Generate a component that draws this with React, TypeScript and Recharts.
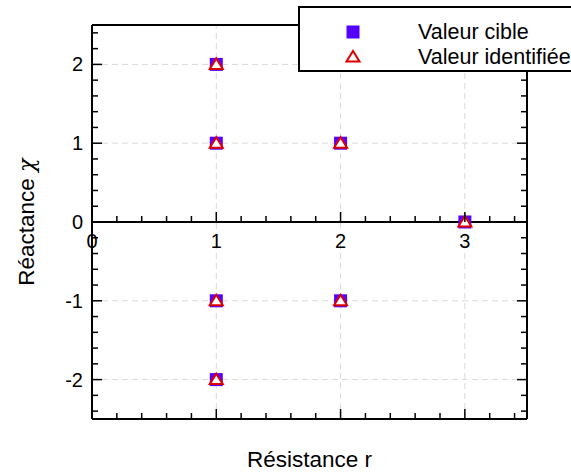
import React from "react";
import {
    Legend,
    ReferenceDot,
    ReferenceLine,
    Scatter,
    ScatterChart,
    XAxis,
    YAxis,
} from "recharts";

const targetR = [1, 1, 2, 3, 1, 2, 1];
const targetChi = [2, 1, 1, 0, -1, -1, -2];
const identR = [1, 1, 2, 3, 1, 2, 1];
const identChi = [2, 1, 1, 0, -1, -1, -2];

const xTicks = [0, 0.2, 0.4, 0.6, 0.8, 1, 1.2, 1.4, 1.6, 1.8, 2, 2.2, 2.4, 2.6, 2.8, 3, 3.2, 3.4];
const yTicks = [
    -2.4, -2.2, -2, -1.8, -1.6, -1.4, -1.2, -1, -0.8, -0.6, -0.4, -0.2, 0,
    0.2, 0.4, 0.6, 0.8, 1, 1.2, 1.4, 1.6, 1.8, 2, 2.2, 2.4,
];
const xLabels = [0, 1, 2, 3];
const xGrid = [1, 2, 3];
const yGrid = [-2, -1, 1, 2];

const targetData = targetR.map((r, i) => ({ r, chi: targetChi[i] }));
const identData = identR.map((r, i) => ({ r, chi: identChi[i] }));

const FONT = '"Liberation Sans", Arial, Helvetica, sans-serif';
const SQUARE_COLOR = "#5500ff";
const TRIANGLE_COLOR = "#dd0000";
const MAJOR = 10;
const MINOR = 6;

const isMajor = (v: number) => Math.abs(v - Math.round(v)) < 1e-6;

// tick marks point inward on every side of the frame
const BottomTick = ({ x, y, payload }: any) => {
    const len = isMajor(payload.value) ? MAJOR : MINOR;
    return <line x1={x} x2={x} y1={y} y2={y - len} stroke="#000" strokeWidth={1.5} />;
};

const TopTick = ({ x, y, payload }: any) => {
    const len = isMajor(payload.value) ? MAJOR : MINOR;
    return <line x1={x} x2={x} y1={y} y2={y + len} stroke="#000" strokeWidth={1.5} />;
};

const LeftTick = ({ x, y, payload }: any) => {
    const major = isMajor(payload.value);
    const len = major ? MAJOR : MINOR;
    return (
        <g>
            <line x1={x} x2={x + len} y1={y} y2={y} stroke="#000" strokeWidth={1.5} />
            {major && (
                <text x={x - 9} y={y + 7} textAnchor="end" fontSize={20} fontFamily={FONT} fill="#000">
                    {Math.round(payload.value)}
                </text>
            )}
        </g>
    );
};

const RightTick = ({ x, y, payload }: any) => {
    const len = isMajor(payload.value) ? MAJOR : MINOR;
    return <line x1={x} x2={x - len} y1={y} y2={y} stroke="#000" strokeWidth={1.5} />;
};

const ZeroTick = (value: number) => (props: any) => {
    const { cx, cy } = props;
    const major = isMajor(value);
    const len = major ? MAJOR : MINOR;
    return (
        <g>
            {value !== 0 && (
                <line x1={cx} x2={cx} y1={cy} y2={cy - len} stroke="#000" strokeWidth={1.5} />
            )}
            {major && xLabels.includes(value) && (
                <text x={cx} y={cy + 26} textAnchor="middle" fontSize={20} fontFamily={FONT} fill="#000">
                    {value}
                </text>
            )}
        </g>
    );
};

const SquareShape = ({ cx, cy }: any) => (
    <rect x={cx - 6.5} y={cy - 6.5} width={13} height={13} fill={SQUARE_COLOR} />
);

const TriangleShape = ({ cx, cy }: any) => (
    <polygon
        points={`${cx},${cy - 6} ${cx - 6.5},${cy + 4.5} ${cx + 6.5},${cy + 4.5}`}
        fill="#fff"
        stroke={TRIANGLE_COLOR}
        strokeWidth={2}
    />
);

const renderLegend = ({ payload }: any) => (
    <svg width={300} height={66} style={{ display: "block" }}>
        <rect x={1} y={1} width={320} height={64} fill="#fff" stroke="#000" strokeWidth={2} />
        {(payload ?? []).map((entry: any, i: number) => {
            const cy = 26 + i * 25;
            return (
                <g key={entry.value}>
                    {entry.type === "square" ? (
                        <rect x={48.5} y={cy - 6.5} width={13} height={13} fill={SQUARE_COLOR} />
                    ) : (
                        <polygon
                            points={`55,${cy - 6} 48.5,${cy + 4.5} 61.5,${cy + 4.5}`}
                            fill="#fff"
                            stroke={TRIANGLE_COLOR}
                            strokeWidth={2}
                        />
                    )}
                    <text x={120} y={cy + 7} fontSize={21.5} fontFamily={FONT} fill="#000">
                        {entry.value}
                    </text>
                </g>
            );
        })}
    </svg>
);

export default function App() {
    return (
        <div
            style={{
                position: "absolute",
                left: 0,
                top: 0,
                width: 571,
                height: 472,
                overflow: "hidden",
                background: "#fff",
                fontFamily: FONT,
            }}
        >
            <ScatterChart width={571} height={472} margin={{ top: 24, right: 43, bottom: 52, left: 91 }}>
                <XAxis
                    type="number"
                    dataKey="r"
                    domain={[0, 3.5]}
                    ticks={xTicks}
                    interval={0}
                    height={1}
                    tickSize={0}
                    tickMargin={0}
                    tickLine={false}
                    tick={BottomTick}
                    axisLine={{ stroke: "#000", strokeWidth: 2 }}
                    allowDataOverflow
                    label={(props: any) => {
                        const vb = props.viewBox;
                        return (
                            <text x={vb.x + vb.width / 2} y={467} textAnchor="middle" fontSize={22.5} fontFamily={FONT} fill="#000">
                                Résistance r
                            </text>
                        );
                    }}
                />
                <XAxis
                    xAxisId="top"
                    orientation="top"
                    type="number"
                    domain={[0, 3.5]}
                    ticks={xTicks}
                    interval={0}
                    height={1}
                    tickSize={0}
                    tickMargin={0}
                    tickLine={false}
                    tick={TopTick}
                    axisLine={{ stroke: "#000", strokeWidth: 2 }}
                    allowDataOverflow
                />
                <YAxis
                    type="number"
                    dataKey="chi"
                    domain={[-2.5, 2.5]}
                    ticks={yTicks}
                    interval={0}
                    width={1}
                    tickSize={0}
                    tickMargin={0}
                    tickLine={false}
                    tick={LeftTick}
                    axisLine={{ stroke: "#000", strokeWidth: 2 }}
                    allowDataOverflow
                    label={(props: any) => {
                        const vb = props.viewBox;
                        const cy = vb.y + vb.height / 2;
                        return (
                            <text
                                x={34}
                                y={cy}
                                transform={`rotate(-90, 34, ${cy})`}
                                textAnchor="middle"
                                fontSize={22.5}
                                fontFamily={FONT}
                                fill="#000"
                            >
                                Réactance <tspan fontFamily='"DejaVu Serif", serif' fontStyle="italic">χ</tspan>
                            </text>
                        );
                    }}
                />
                <YAxis
                    yAxisId="right"
                    orientation="right"
                    type="number"
                    domain={[-2.5, 2.5]}
                    ticks={yTicks}
                    interval={0}
                    width={1}
                    tickSize={0}
                    tickMargin={0}
                    tickLine={false}
                    tick={RightTick}
                    axisLine={{ stroke: "#000", strokeWidth: 2 }}
                    allowDataOverflow
                />
                {xGrid.map((v) => (
                    <ReferenceLine key={`gx${v}`} x={v} stroke="#d9d9d9" strokeDasharray="6 4" />
                ))}
                {yGrid.map((v) => (
                    <ReferenceLine key={`gy${v}`} y={v} stroke="#d9d9d9" strokeDasharray="6 4" />
                ))}
                <Scatter
                    name="Valeur cible"
                    data={targetData}
                    fill={SQUARE_COLOR}
                    legendType="square"
                    shape={SquareShape}
                    isAnimationActive={false}
                />
                <Scatter
                    name="Valeur identifiée"
                    data={identData}
                    fill={TRIANGLE_COLOR}
                    legendType="triangle"
                    shape={TriangleShape}
                    isAnimationActive={false}
                />
                <ReferenceLine y={0} stroke="#000" strokeWidth={2} />
                {xTicks.map((v) => (
                    <ReferenceDot key={`zt${v}`} x={v} y={0} r={0} shape={ZeroTick(v)} />
                ))}
                <Legend
                    layout="horizontal"
                    verticalAlign="middle"
                    align="center"
                    content={renderLegend}
                    wrapperStyle={{ left: 298, top: 6, width: 300, height: 66 }}
                />
            </ScatterChart>
        </div>
    );
}
